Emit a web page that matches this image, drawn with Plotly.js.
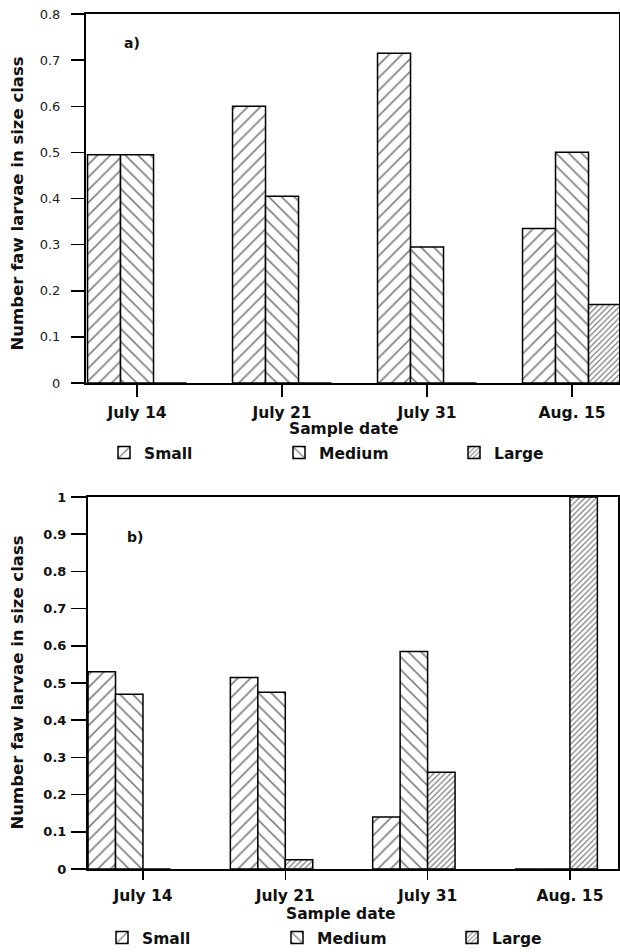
<!DOCTYPE html>
<html><head><meta charset="utf-8">
<script src="https://cdn.plot.ly/plotly-3.0.1.min.js"></script>
<style>html,body{margin:0;padding:0;background:#fff;} #chart{width:620px;height:952px;}</style>
</head><body><div id="chart"></div>
<script>
// ---- data ----
const dates = ['July 14', 'July 21', 'July 31', 'Aug. 15'];
const sizeClasses = ['Small', 'Medium', 'Large'];
// panel a)
const aSmall  = [0.495, 0.600, 0.715, 0.335];
const aMedium = [0.495, 0.405, 0.295, 0.500];
const aLarge  = [0.000, 0.000, 0.000, 0.170];
// panel b)
const bSmall  = [0.530, 0.515, 0.140, 0.000];
const bMedium = [0.470, 0.475, 0.585, 0.000];
const bLarge  = [0.000, 0.025, 0.260, 1.000];
const panelLabels = ['a)', 'b)'];
const xTitle = 'Sample date';
const yTitle = 'Number faw larvae in size class';

// ---- styles ----
const FONT = 'DejaVu Sans, Arial, sans-serif';
const patterns = [
  {shape: '/', size: 9, solidity: 0.18, fgcolor: '#000', bgcolor: '#fff', fillmode: 'overlay'},
  {shape: '\\', size: 9, solidity: 0.18, fgcolor: '#000', bgcolor: '#fff', fillmode: 'overlay'},
  {shape: '/', size: 4, solidity: 0.32, fgcolor: '#000', bgcolor: '#fff', fillmode: 'overlay'}
];
const wA = 0.2276, offA = [-1.5 * wA, -0.5 * wA, 0.5 * wA];
const wB = 0.193,  offB = [-2 * wB, -1 * wB, 0];

function bar(y, i, xa, ya, w, off, leg) {
  return {
    type: 'bar', x: dates, y: y, name: sizeClasses[i],
    xaxis: xa, yaxis: ya, width: w, offset: off[i], legend: leg,
    marker: {color: '#fff', pattern: patterns[i], line: {color: '#000', width: 1.5}},
    hoverinfo: 'skip'
  };
}

const data = [
  bar(aSmall, 0, 'x', 'y', wA, offA, 'legend'),
  bar(aMedium, 1, 'x', 'y', wA, offA, 'legend'),
  bar(aLarge, 2, 'x', 'y', wA, offA, 'legend'),
  bar(bSmall, 0, 'x2', 'y2', wB, offB, 'legend2'),
  bar(bMedium, 1, 'x2', 'y2', wB, offB, 'legend2'),
  bar(bLarge, 2, 'x2', 'y2', wB, offB, 'legend2')
];

const xCommon = {
  type: 'category', showline: true, linewidth: 2, linecolor: '#000', mirror: true,
  ticks: 'outside', tickwidth: 1.5, tickcolor: '#000', showgrid: false, zeroline: false,
  tickfont: {family: FONT, size: 15.5, weight: 'bold', color: '#111'}, automargin: false, fixedrange: true
};
const yCommon = {
  showline: true, linewidth: 2, linecolor: '#000', mirror: true,
  ticks: 'outside', tickwidth: 1.5, tickcolor: '#000', showgrid: false, zeroline: false,
  tick0: 0, dtick: 0.1, automargin: false, fixedrange: true
};
const legendCommon = {
  orientation: 'h', xanchor: 'left', yanchor: 'middle',
  entrywidth: 130, entrywidthmode: 'pixels', traceorder: 'normal', bgcolor: 'rgba(0,0,0,0)',
  font: {family: FONT, size: 15.5, weight: 'bold', color: '#111'}
};

const layout = {
  width: 620, height: 952,
  margin: {l: 0, r: 0, t: 0, b: 0, autoexpand: false},
  paper_bgcolor: '#fff', plot_bgcolor: '#fff',
  barmode: 'overlay', showlegend: true,
  font: {family: FONT, color: '#000'},
  xaxis: Object.assign({}, xCommon, {domain: [0.1387, 0.9984], anchor: 'y', range: [-0.352, 3.324], ticklen: 12, ticklabelstandoff: 2}),
  yaxis: Object.assign({}, yCommon, {domain: [0.59769, 0.98529], anchor: 'x', range: [0, 0.8], ticklen: 13, ticklabelstandoff: 8,
    tickfont: {family: FONT, size: 13, color: '#222'}}),
  xaxis2: Object.assign({}, xCommon, {domain: [0.1419, 0.9968], anchor: 'y2', range: [-0.3865, 3.338], ticklen: 9, ticklabelstandoff: 2}),
  yaxis2: Object.assign({}, yCommon, {domain: [0.08718, 0.47794], anchor: 'x2', range: [0, 1], ticklen: 15, ticklabelstandoff: 2,
    tickfont: {family: FONT, size: 13, weight: 'bold', color: '#111'}}),
  legend: Object.assign({}, legendCommon, {x: 104 / 620, y: 0.5242}),
  legend2: Object.assign({}, legendCommon, {x: 102 / 620, y: 0.0147}),
  annotations: [
    {text: panelLabels[0], xref: 'paper', yref: 'paper', x: 0.2129, y: 0.9548, showarrow: false,
      xanchor: 'center', yanchor: 'middle', font: {family: FONT, size: 14, weight: 'bold', color: '#111'}},
    {text: panelLabels[1], xref: 'paper', yref: 'paper', x: 0.2185, y: 0.4359, showarrow: false,
      xanchor: 'center', yanchor: 'middle', font: {family: FONT, size: 14, weight: 'bold', color: '#111'}},
    {text: xTitle, xref: 'paper', yref: 'paper', x: 0.5548, y: 0.5494, showarrow: false,
      xanchor: 'center', yanchor: 'middle', font: {family: FONT, size: 15.5, weight: 'bold', color: '#111'}},
    {text: xTitle, xref: 'paper', yref: 'paper', x: 0.55, y: 0.0399, showarrow: false,
      xanchor: 'center', yanchor: 'middle', font: {family: FONT, size: 15.5, weight: 'bold', color: '#111'}},
    {text: yTitle, xref: 'paper', yref: 'paper', x: 0.0282, y: 0.7868, showarrow: false, textangle: -90,
      xanchor: 'center', yanchor: 'middle', font: {family: FONT, size: 16.5, weight: 'bold', color: '#111'}},
    {text: yTitle, xref: 'paper', yref: 'paper', x: 0.0282, y: 0.2836, showarrow: false, textangle: -90,
      xanchor: 'center', yanchor: 'middle', font: {family: FONT, size: 16.5, weight: 'bold', color: '#111'}}
  ]
};

Plotly.newPlot('chart', data, layout, {displayModeBar: false, staticPlot: true});
</script>
</body></html>
